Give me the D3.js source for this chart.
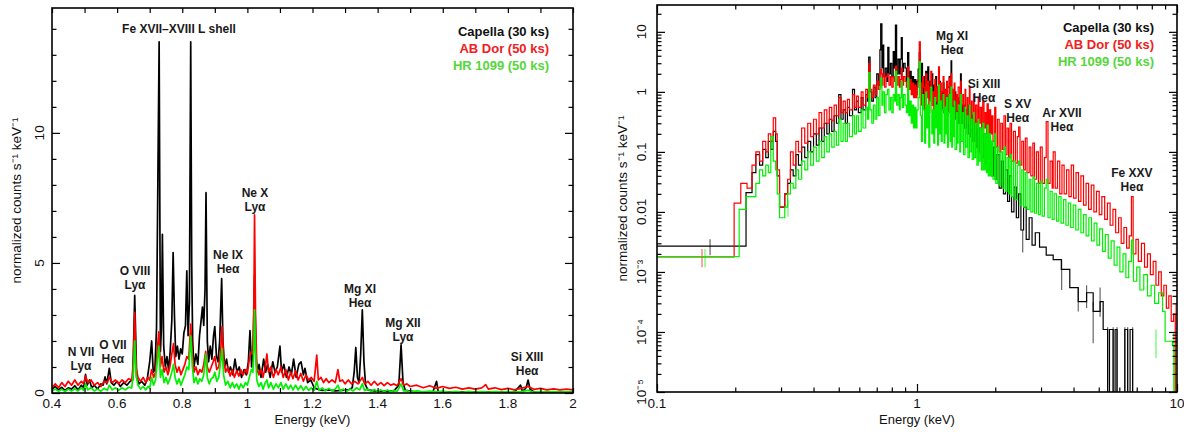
<!DOCTYPE html>
<html>
<head>
<meta charset="utf-8">
<script src="https://cdn.jsdelivr.net/npm/d3@7"></script>
<style>
  body { margin: 0; background: #fff; }
  svg { display: block; font-family: "Liberation Sans", Arial, Helvetica, sans-serif; }
</style>
</head>
<body>
<div id="chart"></div>
<script>
// ---------- data: left panel (linear, 0.4-2 keV), [energy keV, counts s^-1 keV^-1]
const leftCapella = [[0.400,0.15],[0.41,0.25],[0.42,0.12],[0.43,0.22],[0.44,0.1],[0.45,0.2],[0.46,0.15],[0.47,0.28],[0.48,0.12],[0.49,0.3],[0.497,0.2],[0.503,0.72],[0.508,0.3],[0.515,0.5],[0.522,0.2],[0.53,0.3],[0.54,0.15],[0.55,0.35],[0.557,0.3],[0.563,0.62],[0.568,0.35],[0.576,0.95],[0.582,0.4],[0.59,0.3],[0.60,0.45],[0.61,0.25],[0.62,0.4],[0.63,0.3],[0.64,0.45],[0.648,0.5],[0.654,3.75],[0.66,0.6],[0.667,0.35],[0.675,0.45],[0.685,0.3],[0.692,0.5],[0.70,1.2],[0.706,2.0],[0.711,0.8],[0.716,0.9],[0.721,2.5],[0.725,8],[0.729,13.5],[0.733,1.6],[0.736,2.5],[0.739,6.1],[0.743,1.8],[0.748,1.0],[0.753,1.4],[0.758,0.9],[0.763,1.6],[0.768,2.8],[0.772,5.4],[0.776,3.0],[0.78,1.4],[0.785,1.8],[0.79,1.3],[0.795,1.7],[0.80,1.5],[0.805,2.3],[0.81,2.6],[0.814,4.7],[0.818,2.2],[0.822,3.5],[0.826,13.5],[0.829,5],[0.832,2.0],[0.836,1.0],[0.842,1.5],[0.848,1.1],[0.853,2.2],[0.858,2.8],[0.862,3.3],[0.866,2.6],[0.870,4],[0.873,7.7],[0.877,2.0],[0.881,1.2],[0.886,1.8],[0.891,1.3],[0.896,2.2],[0.90,2.55],[0.905,1.4],[0.91,1.2],[0.915,2.0],[0.921,4.4],[0.925,2.0],[0.93,1.0],[0.936,1.3],[0.942,0.8],[0.948,1.0],[0.955,0.7],[0.962,1.3],[0.968,0.8],[0.975,1.0],[0.982,0.6],[0.99,0.9],[0.997,0.7],[1.003,1.2],[1.008,2.4],[1.013,1.0],[1.018,1.8],[1.022,4.5],[1.026,1.5],[1.03,0.8],[1.036,1.1],[1.042,0.6],[1.05,1.3],[1.056,0.8],[1.062,1.1],[1.07,0.6],[1.078,1.2],[1.085,0.8],[1.092,1.0],[1.10,1.8],[1.105,0.8],[1.112,1.1],[1.12,0.6],[1.128,1.0],[1.135,0.7],[1.142,1.3],[1.15,0.6],[1.158,1.1],[1.165,1.2],[1.172,0.7],[1.177,0.95],[1.185,0.4],[1.195,0.5],[1.205,0.2],[1.215,0.15],[1.23,0.1],[1.25,0.12],[1.27,0.08],[1.29,0.1],[1.31,0.12],[1.322,0.2],[1.328,0.8],[1.333,1.75],[1.338,0.6],[1.343,0.4],[1.348,1.5],[1.353,3.2],[1.358,1.2],[1.363,0.3],[1.37,0.12],[1.39,0.08],[1.41,0.07],[1.43,0.06],[1.45,0.08],[1.465,0.3],[1.472,1.85],[1.478,0.4],[1.485,0.1],[1.51,0.05],[1.54,0.04],[1.57,0.05],[1.581,0.45],[1.586,0.05],[1.62,0.03],[1.66,0.04],[1.70,0.03],[1.74,0.04],[1.78,0.03],[1.82,0.04],[1.839,0.3],[1.845,0.05],[1.856,0.2],[1.862,0.5],[1.868,0.15],[1.88,0.04],[1.92,0.03],[1.96,0.03],[2.0,0.03]];

const leftABDor = [[0.40,0.2],[0.41,0.35],[0.42,0.2],[0.43,0.4],[0.44,0.25],[0.45,0.45],[0.46,0.3],[0.47,0.5],[0.48,0.3],[0.49,0.45],[0.497,0.35],[0.503,0.65],[0.51,0.4],[0.52,0.5],[0.53,0.3],[0.54,0.4],[0.55,0.25],[0.56,0.45],[0.57,0.4],[0.576,0.6],[0.585,0.4],[0.595,0.5],[0.605,0.35],[0.615,0.5],[0.625,0.4],[0.635,0.55],[0.645,0.5],[0.650,1.2],[0.654,3.1],[0.658,1.0],[0.664,0.6],[0.672,0.45],[0.68,0.6],[0.688,0.4],[0.695,0.6],[0.70,0.5],[0.706,0.9],[0.712,0.6],[0.718,0.8],[0.723,1.6],[0.728,2.35],[0.733,1.0],[0.738,1.4],[0.744,0.8],[0.75,1.0],[0.756,0.7],[0.762,1.0],[0.768,1.5],[0.773,1.9],[0.778,1.1],[0.784,0.8],[0.79,1.0],[0.796,0.7],[0.802,0.9],[0.808,1.1],[0.814,1.4],[0.82,1.3],[0.826,2.65],[0.831,1.5],[0.836,0.8],[0.842,1.0],[0.848,0.7],[0.854,0.9],[0.86,0.8],[0.866,1.1],[0.872,1.6],[0.877,1.0],[0.883,0.8],[0.889,1.0],[0.895,1.2],[0.90,1.4],[0.906,0.9],[0.912,1.0],[0.918,1.6],[0.922,2.55],[0.927,1.3],[0.933,0.8],[0.94,1.0],[0.947,0.65],[0.954,0.9],[0.96,0.6],[0.967,0.85],[0.974,0.65],[0.98,0.9],[0.987,0.7],[0.994,0.9],[1.0,0.75],[1.006,1.3],[1.012,1.6],[1.017,1.5],[1.020,3.5],[1.022,6.85],[1.025,3.0],[1.029,1.0],[1.035,0.7],[1.042,0.9],[1.048,0.6],[1.055,1.0],[1.06,1.5],[1.065,0.8],[1.072,1.0],[1.08,0.6],[1.088,0.9],[1.095,0.7],[1.103,1.0],[1.11,0.6],[1.118,0.9],[1.126,0.5],[1.133,0.8],[1.14,0.55],[1.148,0.85],[1.156,0.5],[1.164,0.75],[1.172,0.45],[1.18,0.7],[1.188,0.5],[1.196,0.6],[1.205,0.45],[1.213,1.46],[1.218,0.5],[1.226,0.6],[1.234,0.4],[1.242,0.55],[1.25,0.4],[1.26,0.5],[1.27,0.4],[1.278,0.9],[1.284,0.45],[1.292,0.5],[1.30,0.35],[1.31,0.5],[1.32,0.35],[1.33,0.45],[1.34,0.35],[1.353,0.6],[1.36,0.35],[1.37,0.45],[1.38,0.3],[1.39,0.45],[1.40,0.3],[1.41,0.4],[1.42,0.28],[1.43,0.4],[1.44,0.3],[1.45,0.35],[1.46,0.28],[1.472,0.55],[1.48,0.3],[1.49,0.35],[1.50,0.25],[1.52,0.3],[1.54,0.2],[1.56,0.28],[1.58,0.18],[1.60,0.25],[1.62,0.18],[1.64,0.22],[1.66,0.15],[1.68,0.2],[1.70,0.15],[1.72,0.2],[1.732,0.32],[1.74,0.15],[1.76,0.2],[1.78,0.13],[1.80,0.18],[1.82,0.12],[1.84,0.18],[1.862,0.25],[1.88,0.14],[1.90,0.18],[1.92,0.12],[1.94,0.16],[1.96,0.12],[1.98,0.15],[2.0,0.12]];

const leftHR1099 = [[0.40,0.08],[0.41,0.15],[0.42,0.07],[0.43,0.14],[0.44,0.06],[0.45,0.15],[0.46,0.08],[0.47,0.16],[0.48,0.08],[0.49,0.2],[0.497,0.1],[0.503,0.35],[0.51,0.12],[0.52,0.2],[0.53,0.08],[0.54,0.15],[0.55,0.07],[0.56,0.18],[0.57,0.1],[0.576,0.3],[0.585,0.12],[0.595,0.2],[0.605,0.1],[0.615,0.2],[0.625,0.12],[0.635,0.22],[0.645,0.2],[0.650,0.8],[0.654,2.0],[0.658,0.7],[0.664,0.3],[0.672,0.15],[0.68,0.25],[0.688,0.12],[0.695,0.25],[0.70,0.2],[0.706,0.6],[0.712,0.3],[0.718,0.5],[0.723,1.2],[0.728,1.8],[0.733,0.6],[0.738,0.9],[0.744,0.4],[0.75,0.6],[0.756,0.35],[0.762,0.55],[0.768,0.8],[0.773,1.1],[0.778,0.6],[0.784,0.35],[0.79,0.55],[0.796,0.3],[0.802,0.5],[0.808,0.7],[0.814,1.0],[0.82,0.9],[0.826,2.2],[0.831,1.0],[0.836,0.4],[0.842,0.6],[0.848,0.35],[0.854,0.55],[0.86,0.45],[0.866,0.7],[0.872,1.5],[0.877,0.6],[0.883,0.35],[0.889,0.55],[0.895,0.6],[0.90,0.8],[0.906,0.45],[0.912,0.6],[0.918,1.2],[0.922,1.7],[0.927,0.7],[0.933,0.3],[0.94,0.45],[0.947,0.2],[0.954,0.4],[0.96,0.2],[0.967,0.35],[0.974,0.15],[0.98,0.35],[0.987,0.2],[0.994,0.4],[1.0,0.3],[1.006,0.6],[1.012,0.9],[1.017,0.8],[1.020,1.8],[1.022,3.2],[1.025,1.6],[1.029,0.5],[1.035,0.25],[1.042,0.4],[1.048,0.15],[1.055,0.4],[1.06,0.5],[1.065,0.2],[1.072,0.4],[1.08,0.15],[1.088,0.35],[1.095,0.2],[1.103,0.4],[1.11,0.15],[1.118,0.35],[1.126,0.15],[1.133,0.3],[1.14,0.12],[1.148,0.3],[1.156,0.12],[1.164,0.28],[1.172,0.1],[1.18,0.25],[1.188,0.1],[1.196,0.2],[1.205,0.1],[1.213,0.45],[1.22,0.1],[1.23,0.2],[1.24,0.08],[1.25,0.18],[1.26,0.08],[1.27,0.15],[1.278,0.3],[1.285,0.08],[1.295,0.15],[1.305,0.07],[1.315,0.15],[1.325,0.08],[1.335,0.2],[1.345,0.12],[1.353,0.35],[1.36,0.1],[1.37,0.15],[1.38,0.06],[1.39,0.14],[1.40,0.06],[1.41,0.12],[1.42,0.05],[1.43,0.12],[1.44,0.05],[1.45,0.1],[1.46,0.06],[1.472,0.35],[1.48,0.08],[1.49,0.1],[1.50,0.04],[1.52,0.08],[1.54,0.04],[1.56,0.07],[1.58,0.04],[1.60,0.07],[1.62,0.03],[1.64,0.06],[1.66,0.03],[1.68,0.06],[1.70,0.03],[1.72,0.05],[1.74,0.03],[1.76,0.05],[1.78,0.03],[1.80,0.05],[1.82,0.03],[1.84,0.05],[1.862,0.1],[1.88,0.03],[1.90,0.05],[1.92,0.03],[1.94,0.05],[1.96,0.03],[1.98,0.04],[2.0,0.03]];

// ---------- data: right panel (log-log, 0.1-10 keV), histogram bins [bin start keV, value]; 0 = empty bin
const rightCapella = [[0.1,0.0027],[0.22,0.021],[0.232,0.045],[0.24,0.09],[0.248,0.06],[0.255,0.11],[0.262,0.08],[0.268,0.15],[0.274,0.11],[0.28,0.22],[0.286,0.15],[0.29,0.04],[0.296,0.012],[0.31,0.02],[0.318,0.03],[0.326,0.05],[0.334,0.04],[0.342,0.09],[0.35,0.06],[0.36,0.12],[0.37,0.08],[0.38,0.15],[0.39,0.1],[0.40,0.2],[0.41,0.13],[0.42,0.25],[0.43,0.15],[0.44,0.3],[0.45,0.2],[0.46,0.35],[0.47,0.22],[0.48,0.4],[0.49,0.3],[0.50,0.9],[0.51,0.35],[0.52,0.5],[0.53,0.3],[0.54,0.55],[0.55,0.4],[0.565,1.1],[0.575,0.5],[0.585,0.7],[0.595,0.45],[0.61,0.8],[0.62,0.5],[0.635,0.9],[0.645,0.7],[0.652,3.8],[0.66,1.0],[0.67,0.7],[0.68,1.2],[0.69,0.8],[0.70,2.0],[0.71,1.3],[0.72,5],[0.725,13.6],[0.733,2.5],[0.739,6],[0.745,1.8],[0.755,2.5],[0.765,1.5],[0.772,5.5],[0.78,2.0],[0.79,3.0],[0.80,1.8],[0.81,4.7],[0.818,2.5],[0.826,13.0],[0.835,2.0],[0.845,3.5],[0.855,2.0],[0.862,3.5],[0.87,8.0],[0.878,2.2],[0.888,3.0],[0.9,2.5],[0.91,1.5],[0.92,4.5],[0.93,1.5],[0.94,2.2],[0.95,1.2],[0.96,1.8],[0.97,1.0],[0.98,1.6],[0.99,0.9],[1.0,1.5],[1.01,2.4],[1.02,4.5],[1.03,1.2],[1.04,3.0],[1.05,0.8],[1.06,1.8],[1.07,0.7],[1.08,2.2],[1.09,0.9],[1.1,2.6],[1.11,0.8],[1.12,1.5],[1.13,0.7],[1.14,2.0],[1.15,0.6],[1.16,1.3],[1.17,0.7],[1.18,1.8],[1.19,0.6],[1.2,1.2],[1.21,0.5],[1.22,1.5],[1.23,0.6],[1.24,1.0],[1.25,0.5],[1.26,1.4],[1.27,0.45],[1.28,0.9],[1.3,0.5],[1.31,1.2],[1.33,1.8],[1.34,0.5],[1.352,3.3],[1.36,0.5],[1.37,0.9],[1.38,0.4],[1.4,1.0],[1.41,0.35],[1.43,0.8],[1.44,0.3],[1.46,0.7],[1.47,2.0],[1.48,0.3],[1.5,0.6],[1.52,0.25],[1.54,0.5],[1.56,0.2],[1.58,0.6],[1.6,0.18],[1.62,0.4],[1.64,0.15],[1.66,0.35],[1.68,0.12],[1.7,0.3],[1.72,0.1],[1.74,0.25],[1.77,0.08],[1.8,0.2],[1.83,0.06],[1.86,0.4],[1.88,0.05],[1.91,0.15],[1.94,0.04],[1.97,0.12],[2.0,0.035],[2.03,0.09],[2.07,0.025],[2.11,0.07],[2.15,0.02],[2.19,0.05],[2.23,0.015],[2.27,0.04],[2.31,0.01],[2.36,0.026],[2.41,0.008],[2.46,0.02],[2.51,0.005],[2.57,0.012],[2.63,0.0035],[2.7,0.008],[2.77,0.0028],[2.85,0.0045],[2.96,0.0026],[3.14,0.0019],[3.34,0.0016],[3.59,0.0011],[3.87,0.00055],[4.17,0.00032],[4.49,0.00045],[4.76,0.00022],[5.06,0.00032],[5.2,0.00011],[5.41,0],[5.5,0.00011],[5.68,0],[5.78,0.00011],[5.88,0],[6.3,0.00011],[6.46,0],[6.6,0.00011],[6.75,0]];

const rightABDor = [[0.1,0.00178],[0.198,0.014],[0.21,0.03],[0.222,0.025],[0.232,0.06],[0.24,0.1],[0.248,0.07],[0.255,0.15],[0.262,0.1],[0.268,0.2],[0.274,0.15],[0.28,0.37],[0.286,0.2],[0.29,0.05],[0.296,0.012],[0.31,0.02],[0.318,0.035],[0.326,0.1],[0.334,0.06],[0.342,0.15],[0.35,0.1],[0.36,0.25],[0.37,0.14],[0.38,0.3],[0.39,0.18],[0.40,0.35],[0.41,0.2],[0.42,0.45],[0.43,0.25],[0.44,0.5],[0.45,0.3],[0.46,0.55],[0.47,0.33],[0.48,0.6],[0.49,0.4],[0.50,0.8],[0.51,0.45],[0.52,0.7],[0.53,0.45],[0.54,0.75],[0.55,0.5],[0.565,0.9],[0.575,0.55],[0.585,0.85],[0.595,0.55],[0.61,1.0],[0.62,0.6],[0.635,1.1],[0.645,0.8],[0.652,3.0],[0.66,1.1],[0.67,0.8],[0.68,1.3],[0.69,0.9],[0.70,1.5],[0.71,1.1],[0.72,2.0],[0.725,2.4],[0.733,1.3],[0.74,2.0],[0.75,1.2],[0.76,1.8],[0.77,2.0],[0.78,1.3],[0.79,1.8],[0.80,1.2],[0.81,1.8],[0.82,1.5],[0.826,2.7],[0.835,1.3],[0.845,1.8],[0.855,1.2],[0.862,1.6],[0.87,2.5],[0.878,1.3],[0.888,1.8],[0.9,1.5],[0.91,1.2],[0.92,2.6],[0.93,1.1],[0.94,1.6],[0.95,0.9],[0.96,1.4],[0.97,0.8],[0.98,1.3],[0.99,0.8],[1.0,1.2],[1.01,1.6],[1.02,6.8],[1.03,1.4],[1.04,0.6],[1.05,1.8],[1.06,1.2],[1.07,0.5],[1.08,2.0],[1.09,0.8],[1.1,1.5],[1.11,0.45],[1.12,1.2],[1.13,2.2],[1.14,0.6],[1.15,1.0],[1.16,0.5],[1.17,1.6],[1.18,0.7],[1.19,1.2],[1.2,0.45],[1.21,2.6],[1.22,0.6],[1.23,1.4],[1.24,0.5],[1.25,1.0],[1.26,1.8],[1.27,0.45],[1.28,1.1],[1.29,0.6],[1.3,1.5],[1.31,0.4],[1.32,0.9],[1.33,1.7],[1.34,0.5],[1.35,2.0],[1.36,0.45],[1.37,1.1],[1.38,0.6],[1.39,1.4],[1.4,0.4],[1.42,0.9],[1.43,0.5],[1.44,1.2],[1.46,0.35],[1.47,1.5],[1.48,0.6],[1.5,0.9],[1.51,0.3],[1.53,1.1],[1.54,0.4],[1.56,0.8],[1.57,0.3],[1.59,1.2],[1.6,0.35],[1.62,0.7],[1.63,0.28],[1.65,0.9],[1.66,0.3],[1.68,0.6],[1.7,0.25],[1.72,0.8],[1.73,0.3],[1.75,0.55],[1.77,0.22],[1.79,0.7],[1.81,0.25],[1.83,0.45],[1.85,0.2],[1.86,0.63],[1.88,0.18],[1.9,0.5],[1.92,0.2],[1.94,0.4],[1.96,0.15],[1.99,0.55],[2.01,0.12],[2.04,0.35],[2.07,0.1],[2.1,0.3],[2.13,0.11],[2.16,0.4],[2.19,0.09],[2.22,0.25],[2.25,0.08],[2.28,0.3],[2.31,0.07],[2.35,0.22],[2.39,0.065],[2.43,0.18],[2.46,0.26],[2.49,0.06],[2.53,0.15],[2.57,0.05],[2.61,0.17],[2.65,0.045],[2.7,0.12],[2.74,0.04],[2.79,0.14],[2.83,0.035],[2.88,0.1],[2.93,0.03],[2.98,0.12],[3.03,0.03],[3.09,0.08],[3.14,0.32],[3.19,0.03],[3.25,0.07],[3.31,0.025],[3.34,0.1],[3.4,0.025],[3.47,0.07],[3.54,0.02],[3.61,0.06],[3.68,0.02],[3.76,0.05],[3.84,0.018],[3.92,0.06],[4.0,0.017],[4.09,0.045],[4.18,0.015],[4.27,0.04],[4.37,0.013],[4.47,0.03],[4.57,0.011],[4.68,0.028],[4.79,0.01],[4.9,0.022],[5.02,0.009],[5.14,0.018],[5.27,0.0075],[5.4,0.014],[5.53,0.006],[5.67,0.011],[5.81,0.0045],[5.96,0.008],[6.1,0.003],[6.25,0.0055],[6.4,0.0025],[6.55,0.004],[6.68,0.018],[6.78,0.002],[6.95,0.0035],[7.1,0.0015],[7.3,0.003],[7.5,0.0012],[7.7,0.002],[7.9,0.0009],[8.1,0.0015],[8.3,0.0006],[8.5,0.001],[8.7,0.0004],[8.9,0.0006],[9.1,0.00025],[9.3,0.0004],[9.5,0.00015],[9.7,0.0002],[9.85,0],[10,0]];

const rightHR1099 = [[0.1,0.0018],[0.207,0.011],[0.22,0.018],[0.232,0.018],[0.24,0.03],[0.248,0.05],[0.255,0.04],[0.262,0.06],[0.268,0.045],[0.274,0.18],[0.28,0.07],[0.286,0.05],[0.29,0.02],[0.296,0.008],[0.31,0.012],[0.318,0.02],[0.326,0.03],[0.334,0.025],[0.342,0.05],[0.35,0.035],[0.36,0.07],[0.37,0.05],[0.38,0.1],[0.39,0.06],[0.40,0.12],[0.41,0.07],[0.42,0.15],[0.43,0.08],[0.44,0.18],[0.45,0.1],[0.46,0.2],[0.47,0.12],[0.48,0.22],[0.49,0.13],[0.50,0.35],[0.51,0.15],[0.52,0.3],[0.53,0.15],[0.54,0.3],[0.55,0.18],[0.565,0.4],[0.575,0.2],[0.585,0.4],[0.595,0.22],[0.61,0.5],[0.62,0.25],[0.635,0.55],[0.645,0.35],[0.652,2.1],[0.66,0.5],[0.67,0.3],[0.68,0.6],[0.69,0.35],[0.70,0.8],[0.71,0.4],[0.72,1.2],[0.725,1.7],[0.733,0.6],[0.74,1.0],[0.75,0.45],[0.76,0.9],[0.77,1.1],[0.78,0.5],[0.79,0.8],[0.80,0.45],[0.81,0.9],[0.82,0.7],[0.826,2.2],[0.835,0.6],[0.845,0.9],[0.855,0.5],[0.862,0.8],[0.87,1.5],[0.878,0.55],[0.888,0.9],[0.9,0.6],[0.91,0.45],[0.92,1.7],[0.93,0.4],[0.94,0.7],[0.95,0.3],[0.96,0.6],[0.97,0.25],[0.98,0.55],[0.99,0.25],[1.0,0.5],[1.01,0.8],[1.02,3.2],[1.03,0.4],[1.04,0.15],[1.05,0.9],[1.06,0.5],[1.07,0.14],[1.08,1.0],[1.09,0.25],[1.1,0.6],[1.11,0.12],[1.12,0.7],[1.13,1.2],[1.14,0.2],[1.15,0.5],[1.16,0.14],[1.17,0.8],[1.18,0.25],[1.19,0.6],[1.2,0.13],[1.21,1.3],[1.22,0.2],[1.23,0.7],[1.24,0.15],[1.25,0.5],[1.26,0.9],[1.27,0.14],[1.28,0.55],[1.29,0.2],[1.3,0.8],[1.31,0.12],[1.32,0.45],[1.33,0.9],[1.34,0.15],[1.35,1.2],[1.36,0.12],[1.37,0.55],[1.38,0.18],[1.39,0.7],[1.4,0.11],[1.42,0.45],[1.43,0.14],[1.44,0.6],[1.46,0.1],[1.47,0.9],[1.48,0.15],[1.5,0.45],[1.51,0.09],[1.53,0.55],[1.54,0.12],[1.56,0.4],[1.57,0.08],[1.59,0.6],[1.6,0.1],[1.62,0.35],[1.63,0.075],[1.65,0.45],[1.66,0.08],[1.68,0.3],[1.7,0.06],[1.72,0.35],[1.73,0.07],[1.75,0.25],[1.77,0.05],[1.79,0.3],[1.81,0.05],[1.83,0.2],[1.85,0.045],[1.86,0.28],[1.88,0.04],[1.9,0.2],[1.92,0.04],[1.94,0.15],[1.96,0.035],[1.99,0.2],[2.01,0.03],[2.04,0.12],[2.07,0.028],[2.1,0.1],[2.13,0.025],[2.16,0.12],[2.19,0.022],[2.22,0.08],[2.25,0.02],[2.28,0.09],[2.31,0.018],[2.35,0.07],[2.39,0.016],[2.43,0.06],[2.46,0.07],[2.49,0.013],[2.53,0.05],[2.57,0.012],[2.61,0.045],[2.65,0.011],[2.7,0.035],[2.74,0.01],[2.79,0.038],[2.83,0.0095],[2.88,0.03],[2.93,0.009],[2.98,0.032],[3.03,0.0085],[3.09,0.025],[3.14,0.035],[3.19,0.008],[3.25,0.022],[3.31,0.0075],[3.37,0.02],[3.44,0.007],[3.51,0.018],[3.58,0.0065],[3.66,0.016],[3.74,0.006],[3.82,0.014],[3.9,0.0055],[3.99,0.013],[4.08,0.005],[4.17,0.011],[4.27,0.0045],[4.37,0.009],[4.47,0.004],[4.58,0.008],[4.69,0.0033],[4.8,0.0065],[4.92,0.0028],[5.04,0.0052],[5.17,0.0022],[5.3,0.0042],[5.44,0.0017],[5.58,0.0033],[5.73,0.0013],[5.88,0.0026],[6.03,0.001],[6.2,0.002],[6.36,0.0008],[6.52,0.0015],[6.68,0.0034],[6.8,0.0007],[7.0,0.0012],[7.2,0.0005],[7.45,0.0009],[7.7,0.0004],[7.95,0.0006],[8.2,0.0003],[8.5,0.00045],[8.8,0.00022],[9.0,0.00007],[9.6,0.00006],[9.75,0],[10,0]];

// error bars [energy, low, high]
const errCapella = [[0.16,0.0019,0.0035],[2.55,0.0021,0.005],[3.6,0.0005,0.0016],[4.17,0.00022,0.00055],[4.49,0.00025,0.0006],[4.76,0.000065,0.00032],[5.06,0.00018,0.00055],[5.41,0,0.00012],[5.68,0,0.00012],[5.88,0,0.00012],[6.3,0,0.00012],[6.46,0,0.00012],[6.75,0,0.00012]];
const errABDor = [[0.149,0.0012,0.0024],[9.9,0,0.0003]];
const errHR1099 = [[0.153,0.0012,0.0024],[0.319,0.0083,0.016],[8.3,0.000037,0.00011],[9.7,0,0.0001]];

// ---------- labels and ticks
const seriesNames = ["Capella (30 ks)", "AB Dor (50 ks)", "HR 1099 (50 ks)"];
const seriesColors = ["#000000", "#ff0000", "#00f000"];
const legendColors = ["#111111", "#f02020", "#55d63a"];

const leftLines = [
  {name: "Fe XVII\u2013XVIII L shell", sub: null, e: 0.79, v: 13.85},
  {name: "N VII", sub: "Ly\u03b1", e: 0.489, v: 1.42},
  {name: "O VII", sub: "He\u03b1", e: 0.587, v: 1.69},
  {name: "O VIII", sub: "Ly\u03b1", e: 0.655, v: 4.54},
  {name: "Ne IX", sub: "He\u03b1", e: 0.9405, v: 5.15},
  {name: "Ne X", sub: "Ly\u03b1", e: 1.0235, v: 7.54},
  {name: "Mg XI", sub: "He\u03b1", e: 1.346, v: 3.85},
  {name: "Mg XII", sub: "Ly\u03b1", e: 1.478, v: 2.54},
  {name: "Si XIII", sub: "He\u03b1", e: 1.859, v: 1.23}
];
const rightLines = [
  {name: "Mg XI", sub: "He\u03b1", e: 1.364, v: 7.36},
  {name: "Si XIII", sub: "He\u03b1", e: 1.81, v: 1.166},
  {name: "S XV", sub: "He\u03b1", e: 2.44, v: 0.541},
  {name: "Ar XVII", sub: "He\u03b1", e: 3.61, v: 0.383},
  {name: "Fe XXV", sub: "He\u03b1", e: 6.71, v: 0.0383}
];

const leftXLabels = [0.4, 0.6, 0.8, 1, 1.2, 1.4, 1.6, 1.8, 2];
const leftXMinor = [0.5, 0.7, 0.9, 1.1, 1.3, 1.5, 1.7, 1.9];
const leftYLabels = [0, 5, 10];
const leftYMinor = [1, 2, 3, 4, 6, 7, 8, 9, 11, 12, 13, 14];
const rightXLabels = [[0.1, "0.1"], [1, "1"], [10, "10"]];
const rightYLabels = [[1e-5, "10\u207b\u2075"], [1e-4, "10\u207b\u2074"], [1e-3, "10\u207b\u00b3"], [0.01, "0.01"], [0.1, "0.1"], [1, "1"], [10, "10"]];
const yTitle = "normalized counts s\u207b\u00b9 keV\u207b\u00b9";
const xTitle = "Energy (keV)";

// ---------- layout
const W = 1184, H = 432;
const svg = d3.select("#chart").append("svg").attr("width", W).attr("height", H);

const L = {x0: 52, x1: 573, y0: 393, y1: 8};
const R = {x0: 657, x1: 1177, y0: 392, y1: 5};

const xL = d3.scaleLinear().domain([0.4, 2]).range([L.x0, L.x1]);
const yL = d3.scaleLinear().domain([0, 14.8]).range([L.y0, L.y1]);
const xR = d3.scaleLog().domain([0.1, 10]).range([R.x0, R.x1]);
const yR = d3.scaleLog().domain([1e-5, 28]).range([R.y0, R.y1]).clamp(true);

function minorLog(lo, hi) {
  const out = [];
  for (let d = lo; d < hi; d *= 10) for (let k = 2; k <= 9; k++) if (d * k <= hi) out.push(d * k);
  return out;
}

const defs = svg.append("defs");
[["clipL", L], ["clipR", R]].forEach(([id, p]) => {
  defs.append("clipPath").attr("id", id).append("rect")
    .attr("x", p.x0).attr("y", p.y1).attr("width", p.x1 - p.x0).attr("height", p.y0 - p.y1);
});

// ---------- left panel data
const gL = svg.append("g").attr("clip-path", "url(#clipL)");
const lineL = d3.line().x(d => xL(d[0])).y(d => yL(d[1]));
[leftCapella, leftABDor, leftHR1099].forEach((s, i) => {
  gL.append("path").datum(s).attr("fill", "none")
    .attr("stroke", seriesColors[i]).attr("stroke-width", 1.7).attr("stroke-linejoin", "round")
    .attr("d", lineL);
});

// ---------- right panel data
const gR = svg.append("g").attr("clip-path", "url(#clipR)");
const yv = v => v > 0 ? yR(v) : R.y0 + 2;
const lineR = d3.line().x(d => xR(d[0])).y(d => yv(d[1])).curve(d3.curveStepAfter);
const errSets = [errCapella, errABDor, errHR1099];
[rightCapella, rightABDor, rightHR1099].forEach((s, i) => {
  gR.append("g").selectAll("line").data(errSets[i]).join("line")
    .attr("x1", d => xR(d[0])).attr("x2", d => xR(d[0]))
    .attr("y1", d => yv(d[1])).attr("y2", d => yv(d[2]))
    .attr("stroke", seriesColors[i]).attr("stroke-opacity", 0.6).attr("stroke-width", 1.2);
  gR.append("path").datum(s).attr("fill", "none")
    .attr("stroke", seriesColors[i]).attr("stroke-width", 1.2)
    .attr("d", lineR);
});

// ---------- frames and ticks (inward, all four sides)
function frame(p, x, y, xMaj, xMin, yMaj, yMin, xLen, xMinLen) {
  const g = svg.append("g").attr("stroke", "#000");
  const ax = [
    [d3.axisBottom(x).tickValues(xMaj).tickSize(-xLen), p.y0],
    [d3.axisBottom(x).tickValues(xMin).tickSize(-xMinLen), p.y0],
    [d3.axisTop(x).tickValues(xMaj).tickSize(-xLen), p.y1],
    [d3.axisTop(x).tickValues(xMin).tickSize(-xMinLen), p.y1]
  ];
  ax.forEach(([a, ty]) => {
    g.append("g").attr("transform", `translate(0,${ty})`)
      .call(a.tickFormat(""))
      .call(s => s.select(".domain").remove())
      .call(s => s.selectAll("line").attr("stroke-width", 1.2));
  });
  const ay = [
    [d3.axisLeft(y).tickValues(yMaj).tickSize(-8), p.x0],
    [d3.axisLeft(y).tickValues(yMin).tickSize(-4.5), p.x0],
    [d3.axisRight(y).tickValues(yMaj).tickSize(-8), p.x1],
    [d3.axisRight(y).tickValues(yMin).tickSize(-4.5), p.x1]
  ];
  ay.forEach(([a, tx]) => {
    g.append("g").attr("transform", `translate(${tx},0)`)
      .call(a.tickFormat(""))
      .call(s => s.select(".domain").remove())
      .call(s => s.selectAll("line").attr("stroke-width", 1.2));
  });
  svg.append("rect").attr("x", p.x0).attr("y", p.y1)
    .attr("width", p.x1 - p.x0).attr("height", p.y0 - p.y1)
    .attr("fill", "none").attr("stroke", "#000").attr("stroke-width", 1.6);
}

frame(L, xL, yL, leftXLabels, leftXMinor, leftYLabels, leftYMinor, 5, 5);
frame(R, xR, yR, rightXLabels.map(d => d[0]), minorLog(0.1, 10),
      rightYLabels.map(d => d[0]), minorLog(1e-5, 20), 8, 4.5);

// ---------- tick labels
const tl = svg.append("g").attr("font-size", 13.5).attr("fill", "#111");
tl.selectAll(".lx").data(leftXLabels).join("text")
  .attr("x", d => xL(d)).attr("y", 408).attr("text-anchor", "middle").text(d => d);
tl.selectAll(".ly").data(leftYLabels).join("text")
  .attr("transform", d => `translate(44,${yL(d)}) rotate(-90)`)
  .attr("text-anchor", "middle").text(d => d);
tl.selectAll(".rx").data(rightXLabels).join("text")
  .attr("x", d => xR(d[0])).attr("y", 408).attr("text-anchor", "middle").text(d => d[1]);
tl.selectAll(".ry").data(rightYLabels).join("text")
  .attr("transform", d => `translate(646,${yR(d[0])}) rotate(-90)`)
  .attr("text-anchor", "middle").text(d => d[1]);

// axis titles
const at = svg.append("g").attr("font-size", 13).attr("fill", "#111").attr("text-anchor", "middle");
at.append("text").attr("x", (L.x0 + L.x1) / 2).attr("y", 424).text(xTitle);
at.append("text").attr("x", xR(1)).attr("y", 424).text(xTitle);
at.append("text").attr("transform", `translate(21,${(L.y0 + L.y1) / 2}) rotate(-90)`).attr("font-size", 13.5).text(yTitle);
at.append("text").attr("transform", `translate(627,${(R.y0 + R.y1) / 2}) rotate(-90)`).attr("font-size", 13.5).text(yTitle);

// ---------- legends
function legend(xRight, yTop) {
  const g = svg.append("g").attr("font-size", 13).attr("font-weight", "bold").attr("text-anchor", "end");
  seriesNames.forEach((n, i) => {
    g.append("text").attr("x", xRight).attr("y", yTop + i * 17).attr("fill", legendColors[i]).text(n);
  });
}
legend(549, 36);
legend(1154, 32);

// ---------- line identifications
function idLabels(list, x, y) {
  const g = svg.append("g").attr("font-size", 12).attr("font-weight", "bold")
    .attr("fill", "#1a1a1a").attr("text-anchor", "middle");
  list.forEach(d => {
    g.append("text").attr("x", x(d.e)).attr("y", y(d.v)).text(d.name);
    if (d.sub) g.append("text").attr("x", x(d.e)).attr("y", y(d.v) + 14).text(d.sub);
  });
}
idLabels(leftLines, xL, yL);
idLabels(rightLines, xR, yR);
</script>
</body>
</html>
